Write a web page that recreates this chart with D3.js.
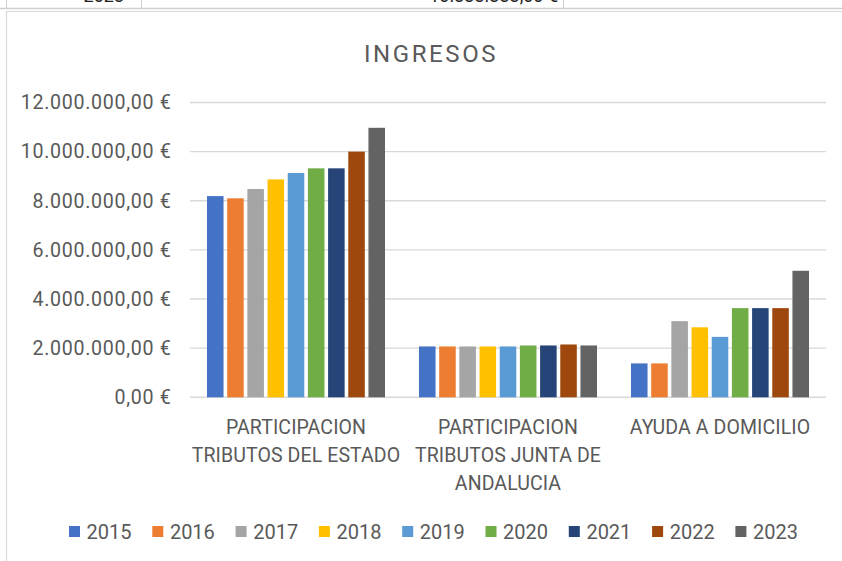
<!DOCTYPE html>
<html><head><meta charset="utf-8">
<script src="https://cdn.jsdelivr.net/npm/d3@7"></script>
<style>
html,body{margin:0;padding:0;background:#fff;}
svg{display:block;font-family:Roboto, "Open Sans", sans-serif;}
</style></head>
<body>
<svg id="chart" width="842" height="561"></svg>
<script>
const categories = [["PARTICIPACION","TRIBUTOS DEL ESTADO"],["PARTICIPACION","TRIBUTOS JUNTA DE","ANDALUCIA"],["AYUDA A DOMICILIO"]];
const years = ["2015","2016","2017","2018","2019","2020","2021","2022","2023"];
const colors = ["#4472C4","#ED7D31","#A5A5A5","#FFC000","#5B9BD5","#70AD47","#264478","#9E480E","#636363"];
const valuesEstado = [8190000,8100000,8480000,8870000,9130000,9320000,9320000,10000000,10970000];
const valuesJunta  = [2070000,2070000,2070000,2070000,2070000,2110000,2110000,2150000,2110000];
const valuesAyuda  = [1380000,1380000,3100000,2850000,2460000,3630000,3630000,3630000,5150000];
const yTicks = [0,2000000,4000000,6000000,8000000,10000000,12000000];
const title = "INGRESOS";
const topRowLabel = "2023";
const topRowValue = "10.333.333,00 €";

const series = [valuesEstado, valuesJunta, valuesAyuda];
const svg = d3.select("#chart");
const textColor = "#595959";

// spreadsheet strip above chart
svg.append("line").attr("x1",0).attr("x2",842).attr("y1",8.5).attr("y2",8.5).attr("stroke","#d0d0d0").attr("stroke-width",1.5);
[6.5,141.5,563.5].forEach(x=>svg.append("line").attr("x1",x).attr("x2",x).attr("y1",0).attr("y2",8).attr("stroke","#d0d0d0"));
svg.append("text").attr("x",124).attr("y",2).attr("text-anchor","end").attr("font-size",18).attr("fill","#222").text(topRowLabel);
svg.append("text").attr("x",558).attr("y",2).attr("text-anchor","end").attr("font-size",18).attr("fill","#222").text(topRowValue);
// chart box
svg.append("path").attr("d","M6.5,561 V11.5 H842").attr("fill","none").attr("stroke","#d9d9d9").attr("stroke-width",1.2);

const y = d3.scaleLinear().domain([0,12000000]).range([397.3,102.5]);
const x0 = d3.scaleBand().domain(d3.range(categories.length)).range([190,826]).paddingInner(0).paddingOuter(0);
const x1 = d3.scaleBand().domain(years).range([17, x0.bandwidth()-17]).paddingInner(0.18).paddingOuter(0);

// gridlines
svg.append("g").selectAll("line").data(yTicks).join("line")
  .attr("x1",190).attr("x2",826).attr("y1",d=>y(d)).attr("y2",d=>y(d))
  .attr("stroke","#d9d9d9").attr("stroke-width",1.4);

// y axis labels
const fmt = d => {
  const s = d3.format(",.2f")(d).replace(/,/g,"X").replace(/\./g,",").replace(/X/g,".");
  return s + " €";
};
const yAxis = d3.axisLeft(y).tickValues(yTicks).tickFormat(fmt).tickSize(0).tickPadding(0);
const ya = svg.append("g").attr("transform","translate(171.5,0)").call(yAxis);
ya.select(".domain").remove();
ya.selectAll("text").attr("font-size",19.6).attr("letter-spacing",0.7).attr("fill",textColor).attr("font-family","Roboto, sans-serif");

// bars
const groups = svg.append("g").selectAll("g").data(series).join("g")
  .attr("transform",(d,i)=>`translate(${x0(i)},0)`);
groups.selectAll("rect").data(d=>d.map((v,j)=>({v,j}))).join("rect")
  .attr("x",d=>x1(years[d.j])).attr("width",x1.bandwidth())
  .attr("y",d=>y(d.v)).attr("height",d=>y(0)-y(d.v))
  .attr("fill",d=>colors[d.j]);

// category labels
const cl = svg.append("g").selectAll("text").data(categories).join("text")
  .attr("text-anchor","middle").attr("font-size",19.5).attr("letter-spacing",0.1).attr("fill",textColor)
  .attr("transform",(d,i)=>`translate(${x0(i)+x0.bandwidth()/2},0)`);
cl.selectAll("tspan").data(d=>d).join("tspan")
  .attr("x",0).attr("y",(d,k)=>434+k*28).text(d=>d);

// title
svg.append("text").attr("x",431).attr("y",62).attr("text-anchor","middle")
  .attr("font-size",24).attr("letter-spacing",2.6).attr("fill",textColor).text(title);

// legend
const lg = svg.append("g").selectAll("g").data(years).join("g")
  .attr("transform",(d,i)=>`translate(${69+i*83.3},0)`);
lg.append("rect").attr("x",0).attr("y",526).attr("width",11).attr("height",11).attr("fill",(d,i)=>colors[i]);
lg.append("text").attr("x",17.6).attr("y",538.5).attr("font-size",20).attr("fill",textColor).text(d=>d);
</script>
</body></html>
